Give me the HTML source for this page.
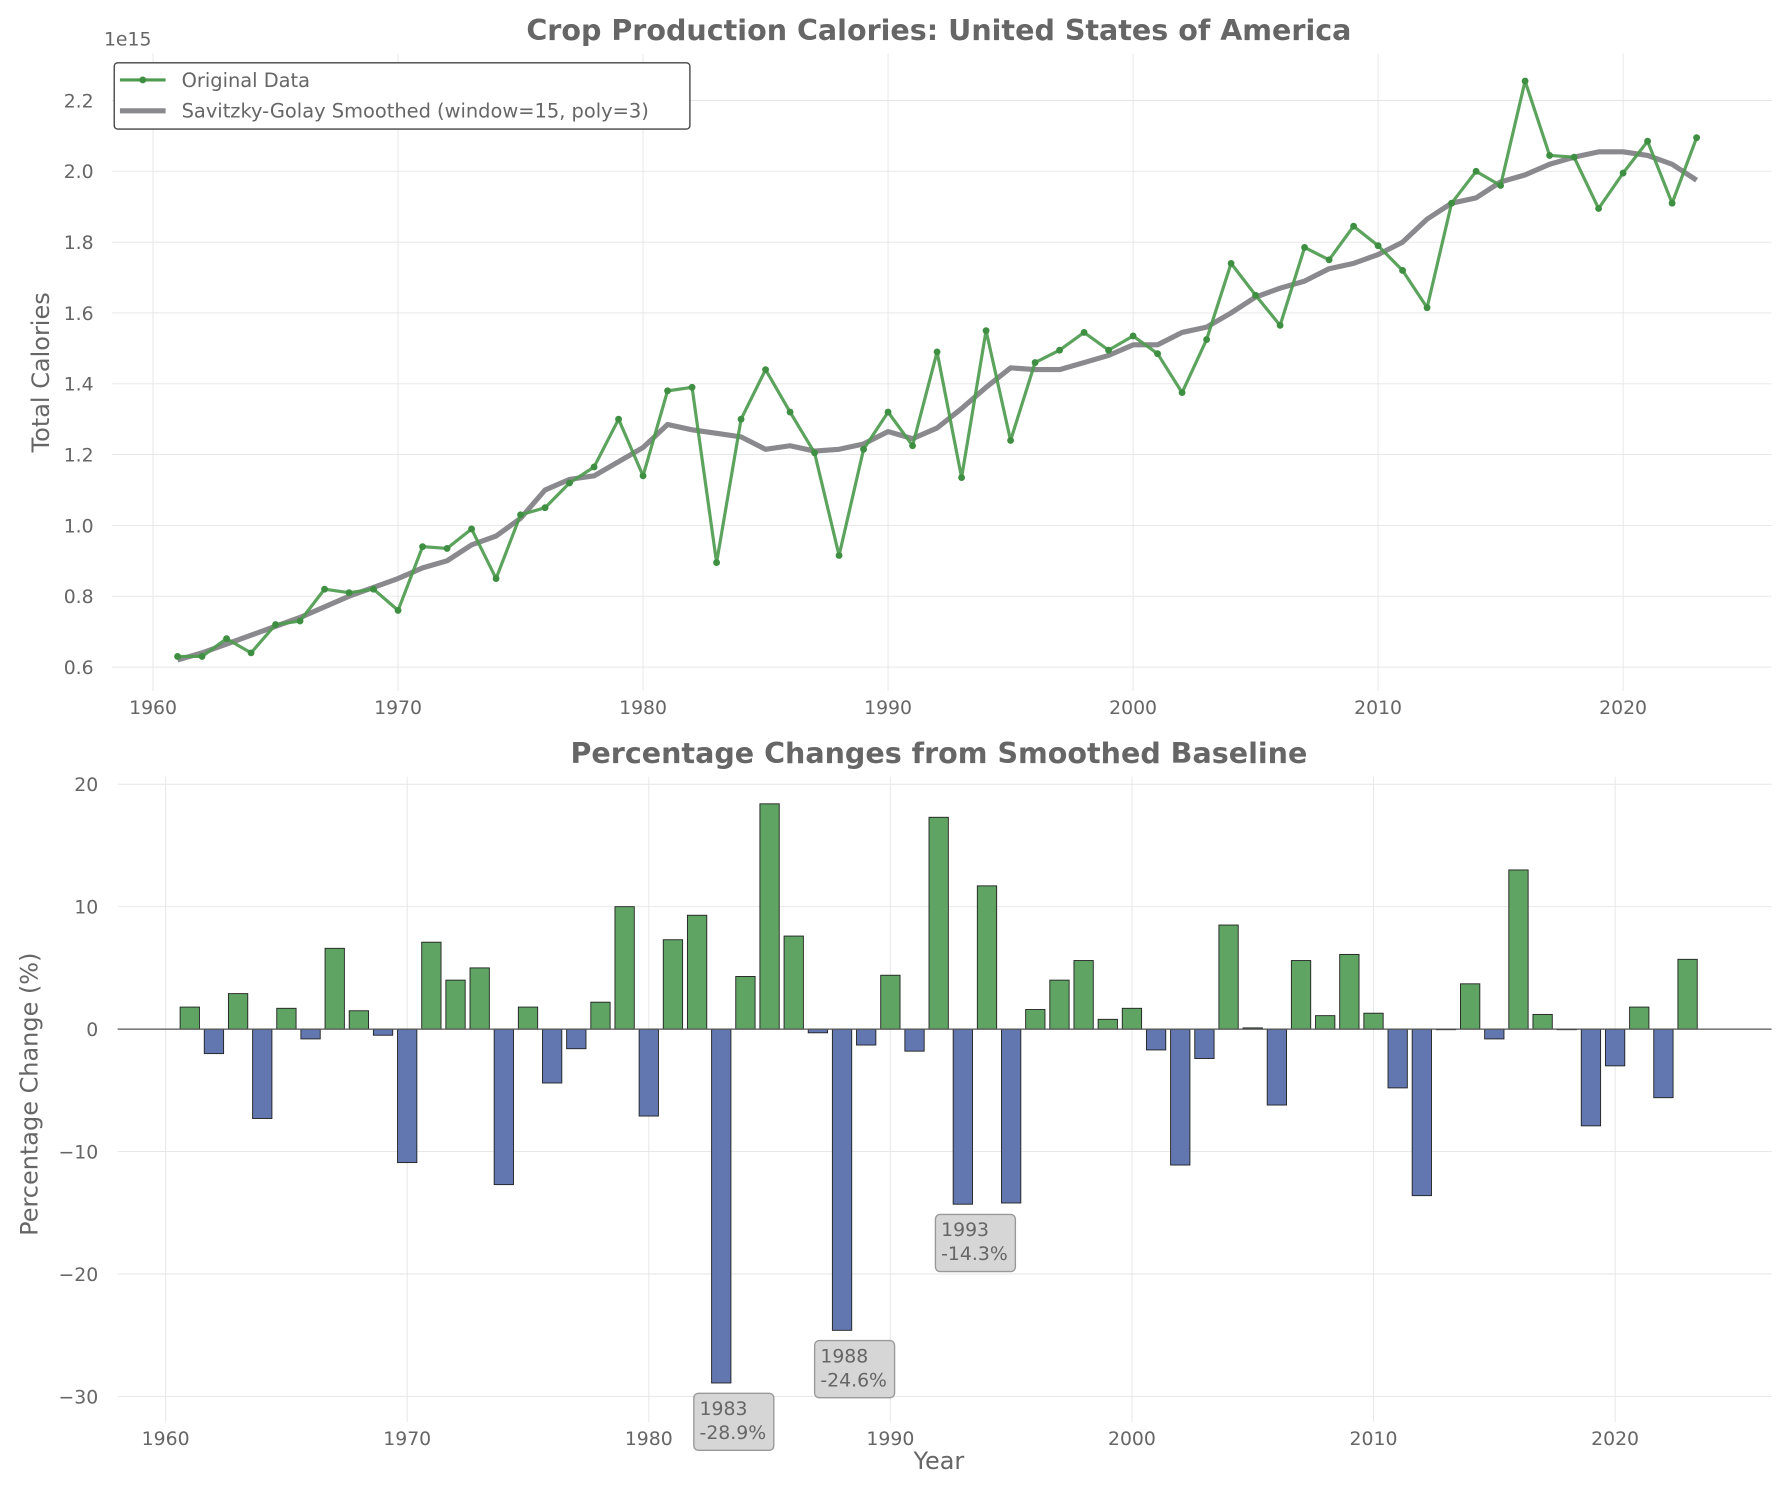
<!DOCTYPE html>
<html><head><meta charset="utf-8"><style>
html,body{margin:0;padding:0;background:#fff}
svg{display:block;font-family:"DejaVu Sans","Liberation Sans",sans-serif}
</style></head><body>
<svg id="chart" width="1791" height="1486" viewBox="0 0 1568 1301" preserveAspectRatio="none" xmlns="http://www.w3.org/2000/svg">
<g id="topPanel"></g>
<g id="botPanel"></g>
</svg>
<script>
const years = [];
for (let y = 1961; y <= 2023; y++) years.push(y);
const original = [0.63,0.63,0.68,0.64,0.72,0.73,0.82,0.81,0.82,0.76,0.94,0.935,0.99,0.85,1.03,1.05,1.12,1.165,1.30,1.14,1.38,1.39,0.895,1.30,1.44,1.32,1.205,0.915,1.215,1.32,1.225,1.49,1.135,1.55,1.24,1.46,1.495,1.545,1.495,1.535,1.485,1.375,1.525,1.74,1.65,1.565,1.785,1.75,1.845,1.79,1.72,1.615,1.91,2.0,1.96,2.255,2.045,2.04,1.895,1.995,2.085,1.91,2.095];
const smoothed = [0.62,0.64,0.665,0.69,0.715,0.74,0.77,0.80,0.825,0.85,0.88,0.90,0.945,0.97,1.02,1.10,1.13,1.14,1.18,1.22,1.285,1.27,1.26,1.25,1.215,1.225,1.21,1.215,1.23,1.265,1.245,1.275,1.33,1.39,1.445,1.44,1.44,1.46,1.48,1.51,1.51,1.545,1.56,1.60,1.645,1.67,1.69,1.725,1.74,1.765,1.80,1.865,1.91,1.925,1.97,1.99,2.02,2.04,2.055,2.055,2.045,2.02,1.975];
const pctChange = [1.8,-2.0,2.9,-7.3,1.7,-0.8,6.6,1.5,-0.5,-10.9,7.1,4.0,5.0,-12.7,1.8,-4.4,-1.6,2.2,10.0,-7.1,7.3,9.3,-28.9,4.3,18.4,7.6,-0.3,-24.6,-1.3,4.4,-1.8,17.3,-14.3,11.7,-14.2,1.6,4.0,5.6,0.8,1.7,-1.7,-11.1,-2.4,8.5,0.1,-6.2,5.6,1.1,6.1,1.3,-4.8,-13.6,0,3.7,-0.8,13.0,1.2,0,-7.9,-3.0,1.8,-5.6,5.7];
const xTicks = [1960,1970,1980,1990,2000,2010,2020];
const yTicksTop = [0.6,0.8,1.0,1.2,1.4,1.6,1.8,2.0,2.2];
const yTicksBot = [-30,-20,-10,0,10,20];
const annotated = [1983,1988,1993];

const NS = "http://www.w3.org/2000/svg";
function mk(parent, tag, attrs, text) {
  const el = document.createElementNS(NS, tag);
  for (const k in attrs) el.setAttribute(k, attrs[k]);
  if (text !== undefined) el.textContent = text;
  parent.appendChild(el);
  return el;
}
const TXT = "#666";
const TICK = 16.5, TITLE = 25, AXT = 21;

// ---------- TOP ----------
const topG = document.getElementById('topPanel');
const tx = y => 134 + (y - 1960) * (1421 - 134) / 60;
const ty = v => 584 - (v - 0.6) * (584 - 88) / 1.6;
const TL = 98, TR = 1551, TT = 47, TB = 605;
xTicks.forEach(t => {
  const l = mk(topG, 'line', {x1: tx(t), x2: tx(t), y1: TT, y2: TB, stroke: '#e5e5e5', 'stroke-width': 0.8});
  
  
  const s = mk(topG, 'text', {x: tx(t), y: 625, 'text-anchor': 'middle', 'font-size': TICK, fill: TXT}, t);
  
  
});
yTicksTop.forEach(t => {
  const l = mk(topG, 'line', {x1: TL, x2: TR, y1: ty(t), y2: ty(t), stroke: '#e5e5e5', 'stroke-width': 0.8});
  
  
  const s = mk(topG, 'text', {x: 82, y: ty(t) + 6, 'text-anchor': 'end', 'font-size': TICK, fill: TXT}, t.toFixed(1));
  
  
});
let el;
el = mk(topG, 'text', {x: 91, y: 40, 'font-size': TICK, fill: TXT}, '1e15');


el = mk(topG, 'text', {x: 43, y: 326, 'text-anchor': 'middle', 'font-size': AXT, fill: TXT, transform: 'rotate(-90 43 326)'}, 'Total Calories');


el = mk(topG, 'text', {x: 822, y: 35, 'text-anchor': 'middle', 'font-size': TITLE, 'font-weight': 'bold', fill: TXT}, 'Crop Production Calories: United States of America');



el = mk(topG, 'polyline', {points: years.map((y, i) => tx(y) + ',' + ty(smoothed[i])).join(' '), fill: 'none', stroke: '#8a8a8e', 'stroke-width': 4.5, 'stroke-linejoin': 'round'});


el = mk(topG, 'polyline', {points: years.map((y, i) => tx(y) + ',' + ty(original[i])).join(' '), fill: 'none', stroke: '#4e9b4f', 'stroke-width': 2.8, 'stroke-linejoin': 'round', opacity: 0.92});


years.forEach((y, i) => {
  const c = mk(topG, 'circle', {cx: tx(y), cy: ty(original[i]), r: 3, fill: '#3f8f42'});
  
  
});

const lg = mk(topG, 'g', {});


mk(lg, 'rect', {x: 100, y: 55, width: 504, height: 58, rx: 3, fill: '#fff', stroke: '#444', 'stroke-width': 1.2});
mk(lg, 'line', {x1: 105, x2: 145, y1: 70, y2: 70, stroke: '#4e9b4f', 'stroke-width': 2.8});
mk(lg, 'circle', {cx: 125, cy: 70, r: 3, fill: '#3f8f42'});
el = mk(lg, 'text', {x: 159, y: 76, 'font-size': 17, fill: TXT}, 'Original Data');


mk(lg, 'line', {x1: 105, x2: 145, y1: 97, y2: 97, stroke: '#8a8a8e', 'stroke-width': 4.5});
el = mk(lg, 'text', {x: 159, y: 103, 'font-size': 17, fill: TXT}, 'Savitzky-Golay Smoothed (window=15, poly=3)');



// ---------- BOTTOM ----------
const botG = document.getElementById('botPanel');
const bx = y => 145 + (y - 1960) * (1414 - 145) / 60;
const by = v => 901 - v * (1223 - 687) / 50;
const BL = 103, BR = 1551, BT = 680, BB = 1245;
xTicks.forEach(t => {
  const l = mk(botG, 'line', {x1: bx(t), x2: bx(t), y1: BT, y2: BB, stroke: '#e5e5e5', 'stroke-width': 0.8});
  
  
  const s = mk(botG, 'text', {x: bx(t), y: 1265, 'text-anchor': 'middle', 'font-size': TICK, fill: TXT}, t);
  
  
});
yTicksBot.forEach(t => {
  const l = mk(botG, 'line', {x1: BL, x2: BR, y1: by(t), y2: by(t), stroke: '#e5e5e5', 'stroke-width': 0.8});
  
  
  const s = mk(botG, 'text', {x: 86, y: by(t) + 6, 'text-anchor': 'end', 'font-size': TICK, fill: TXT}, t < 0 ? '\u2212' + Math.abs(t) : t);
  
  
});
el = mk(botG, 'text', {x: 33, y: 958, 'text-anchor': 'middle', 'font-size': AXT, fill: TXT, transform: 'rotate(-90 33 958)'}, 'Percentage Change (%)');


el = mk(botG, 'text', {x: 822, y: 1286, 'text-anchor': 'middle', 'font-size': AXT, fill: TXT}, 'Year');


el = mk(botG, 'text', {x: 822, y: 668, 'text-anchor': 'middle', 'font-size': TITLE, 'font-weight': 'bold', fill: TXT}, 'Percentage Changes from Smoothed Baseline');



const bw = 0.8 * (1414 - 145) / 60;
years.forEach((y, i) => {
  const v = pctChange[i];
  const y0 = by(Math.max(v, 0)), y1 = by(Math.min(v, 0));
  const r = mk(botG, 'rect', {x: bx(y) - bw / 2, y: y0, width: bw, height: Math.max(y1 - y0, 0.5), fill: v >= 0 ? '#5fa463' : '#6277b0', stroke: '#222', 'stroke-width': 0.8});
  
  
});
el = mk(botG, 'line', {x1: BL, x2: BR, y1: by(0), y2: by(0), stroke: '#555', 'stroke-width': 1});



annotated.forEach(y => {
  const v = pctChange[years.indexOf(y)];
  const g = mk(botG, 'g', {});
  
  
  const x0 = bx(y) - 24, y0 = by(v) + 9;
  mk(g, 'rect', {x: x0, y: y0, width: 70, height: 50, rx: 4, fill: '#d6d6d6', stroke: '#999', 'stroke-width': 1.2});
  mk(g, 'text', {x: x0 + 5, y: y0 + 19, 'font-size': 16.5, fill: TXT}, String(y));
  mk(g, 'text', {x: x0 + 5, y: y0 + 40, 'font-size': 16.5, fill: TXT}, v.toFixed(1) + '%');
});
</script>
</body></html>
